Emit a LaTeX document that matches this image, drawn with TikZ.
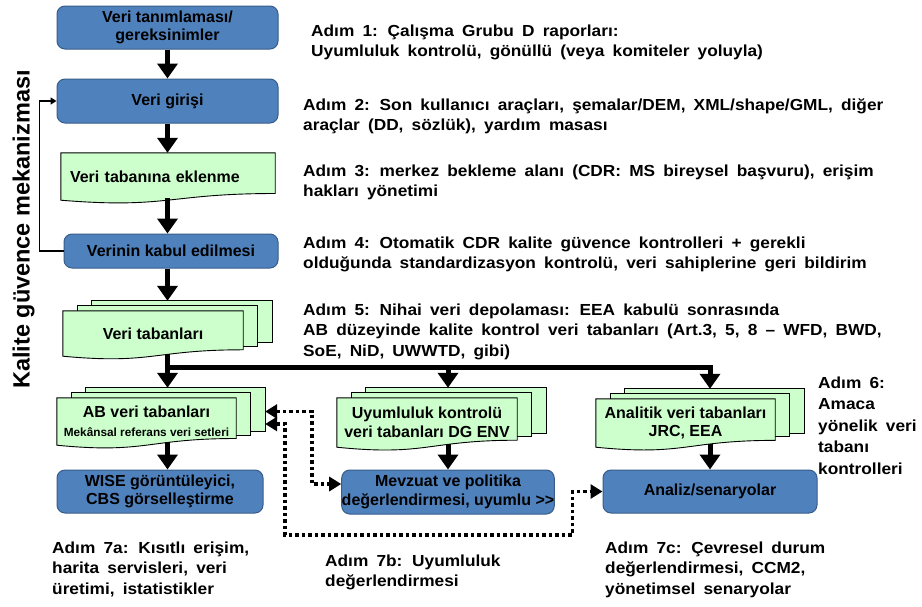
\documentclass[tikz,border=0pt]{standalone}
\usepackage{fontspec}
\setmainfont{Liberation Sans}
\newfontfamily\stepfont{Liberation Sans}[FakeStretch=1.08,WordSpace=1.7]
\usetikzlibrary{arrows.meta,calc,backgrounds}

\definecolor{boxblue}{HTML}{4F81BD}
\definecolor{boxedge}{HTML}{385D8A}
\definecolor{sheetgreen}{HTML}{CCFFCC}

% outline of a document sheet with a wavy lower edge (node = top part down to the left end of the wave)
\newcommand\sheetoutline[1]{(#1.north west) -- (#1.north east)
  -- ($(#1.south east)!0.1413!(#1.north east)$)
  .. controls ($(#1.south)!0.1413!(#1.north)$) and ($(#1.south)!-0.1852!(#1.north)$) .. (#1.south west) -- cycle}
% stacked sheet number #2 behind the front sheet of node #1
\newcommand\backsheet[2]{([shift={(#2*14.5,-#2*5)}]#1.north west) rectangle ($(#1.south east)!0.1413!(#1.north east)+(#2*14.5,-#2*3.5)$)}

\tikzset{
  flowbox/.style={draw=boxedge, line width=1pt, fill=boxblue, rounded corners=8pt,
    font=\bfseries\fontsize{16}{18.5}\selectfont, align=center, inner sep=0pt},
  sheetnode/.style={inner sep=0pt, align=center, font=\bfseries\fontsize{16}{18.5}\selectfont},
  sheet/.style={draw=black, line width=0.9pt, fill=sheetgreen},
  steptext/.style={anchor=base west, inner sep=0pt, font=\stepfont\bfseries\fontsize{16}{20.5}\selectfont},
  flow/.style={line width=5pt, -{Triangle[width=20pt,length=15pt]}},
  feedback/.style={line width=1.8pt, -{Triangle[width=7pt,length=6pt]}},
  dotlink/.style={line width=3.5pt, dash pattern=on 3.5pt off 3pt,
    {Triangle[width=14pt,length=12pt]}-{Triangle[width=14pt,length=12pt]}},
}

\begin{document}
\begin{tikzpicture}[x=1pt, y=-1pt]
\useasboundingbox (0,0) rectangle (922,606);

% main column
\node[flowbox, minimum width=221pt, minimum height=43pt] (n1) at (167.5,27.5) {Veri tanımlaması/\\gereksinimler};
\node[flowbox, minimum width=221pt, minimum height=44pt] (n2) at (167.5,101) {Veri girişi};
\node[sheetnode, minimum width=214pt, minimum height=47pt, inner xsep=9pt, text width=196pt, align=left] (n3) at (168,176.5) {Veri tabanına eklenme};
\node[flowbox, minimum width=214pt, minimum height=34pt] (n4) at (171,251) {Verinin kabul edilmesi};
\node[sheetnode, minimum width=180pt, minimum height=45pt] (vt) at (153,333.5) {Veri tabanları};

% second level databases
\node[sheetnode, minimum width=179pt, minimum height=47pt] (ab) at (146.5,421.5) {AB veri tabanları\\{\fontsize{11.8}{14}\selectfont Mekânsal referans veri setleri}};
\node[sheetnode, minimum width=180pt, minimum height=49pt] (uy) at (427,422.5) {Uyumluluk kontrolü\\veri tabanları DG ENV};
\node[sheetnode, minimum width=179pt, minimum height=48pt] (an) at (685.5,423) {Analitik veri tabanları\\JRC, EEA};

% applications
\node[flowbox, minimum width=206pt, minimum height=43pt] (wise) at (160,491.5) {WISE görüntüleyici,\\CBS görselleştirme};
\node[flowbox, minimum width=208pt, minimum height=44pt] (mv) at (448,492) {Mevzuat ve politika\\değerlendirmesi, uyumlu >{}>};
\node[flowbox, minimum width=214pt, minimum height=43pt] (as) at (710,491.5) {Analiz/senaryolar};

% side title
\node[font=\bfseries\fontsize{23.5}{28}\selectfont, rotate=90, anchor=base, inner sep=0pt] (qa) at (29.5,229.5) {Kalite güvence mekanizması};

% step descriptions
\node[steptext] (s1) at (311,36) {\begin{tabular}[t]{@{}l@{}}Adım 1: Çalışma Grubu D raporları:\\Uyumluluk kontrolü, gönüllü (veya komiteler yoluyla)\end{tabular}};
\node[steptext] (s2) at (303,110) {\begin{tabular}[t]{@{}l@{}}Adım 2: Son kullanıcı araçları, şemalar/DEM, XML/shape/GML, diğer\\araçlar (DD, sözlük), yardım masası\end{tabular}};
\node[steptext] (s3) at (303,176) {\begin{tabular}[t]{@{}l@{}}Adım 3: merkez bekleme alanı (CDR: MS bireysel başvuru), erişim\\hakları yönetimi\end{tabular}};
\node[steptext] (s4) at (303,248) {\begin{tabular}[t]{@{}l@{}}Adım 4: Otomatik CDR kalite güvence kontrolleri + gerekli\\olduğunda standardizasyon kontrolü, veri sahiplerine geri bildirim\end{tabular}};
\node[steptext] (s5) at (303,315) {\begin{tabular}[t]{@{}l@{}}Adım 5: Nihai veri depolaması: EEA kabulü sonrasında\\AB düzeyinde kalite kontrol veri tabanları (Art.3, 5, 8 – WFD, BWD,\\SoE, NiD, UWWTD, gibi)\end{tabular}};
\node[steptext, font=\stepfont\bfseries\fontsize{16}{21.5}\selectfont] (s6) at (818,388) {\begin{tabular}[t]{@{}l@{}}Adım 6:\\Amaca\\yönelik veri\\tabanı\\kontrolleri\end{tabular}};
\node[steptext] (s7a) at (52,553) {\begin{tabular}[t]{@{}l@{}}Adım 7a: Kısıtlı erişim,\\harita servisleri, veri\\üretimi, istatistikler\end{tabular}};
\node[steptext] (s7b) at (325,566) {\begin{tabular}[t]{@{}l@{}}Adım 7b: Uyumluluk\\değerlendirmesi\end{tabular}};
\node[steptext] (s7c) at (605,553) {\begin{tabular}[t]{@{}l@{}}Adım 7c: Çevresel durum\\değerlendirmesi, CCM2,\\yönetimsel senaryolar\end{tabular}};

% sheet outlines behind the texts
\begin{scope}[on background layer]
  \fill[white] (0,0) rectangle (922,606);
  \filldraw[sheet] \sheetoutline{n3};
  \foreach \d in {vt,ab,uy,an}{
    \filldraw[sheet] \backsheet{\d}{2};
    \filldraw[sheet] \backsheet{\d}{1};
    \filldraw[sheet] \sheetoutline{\d};
  }
\end{scope}

% main flow
\draw[flow] (n1.south) -- (n2.north);
\draw[flow] (n2.south) -- (n3.north -| n2.south);
\draw[flow] ([yshift=2pt]n3.south -| n2.south) -- (n4.north -| n2.south);
\draw[flow] (n4.south -| n2.south) -- ([yshift=10pt]vt.north -| n2.south);
\draw[feedback] (n4.west) -- ++(-24,0) |- (n2.west);

% distribution to the three database groups
\coordinate (split) at (167.5,367);
\draw[flow] ([yshift=2pt]vt.south -| n1.south) -- ([yshift=10pt]ab.north -| n1.south);
\draw[flow] (split) -| ([yshift=10pt]an.north -| as.north);
\draw[flow] (split -| mv.north) -- ([yshift=10pt]uy.north -| mv.north);

\draw[flow] ([yshift=3pt]ab.south -| n1.south) -- (wise.north -| n1.south);
\draw[flow] ([yshift=3pt]uy.south -| mv.north) -- (mv.north);
\draw[flow] ([yshift=3pt]an.south -| as.north) -- (as.north);

% dotted exchange links
\draw[dotlink] ([shift={(29,-10)}]ab.east) -- ++(47,0) |- ([yshift=8pt]mv.west);
\draw[dotlink] ([shift={(29,2.5)}]ab.east) -- ++(20,0) -- ++(0,111) -| ($(as.west)+(-30,0)$) -- (as.west);
\end{tikzpicture}
\end{document}
